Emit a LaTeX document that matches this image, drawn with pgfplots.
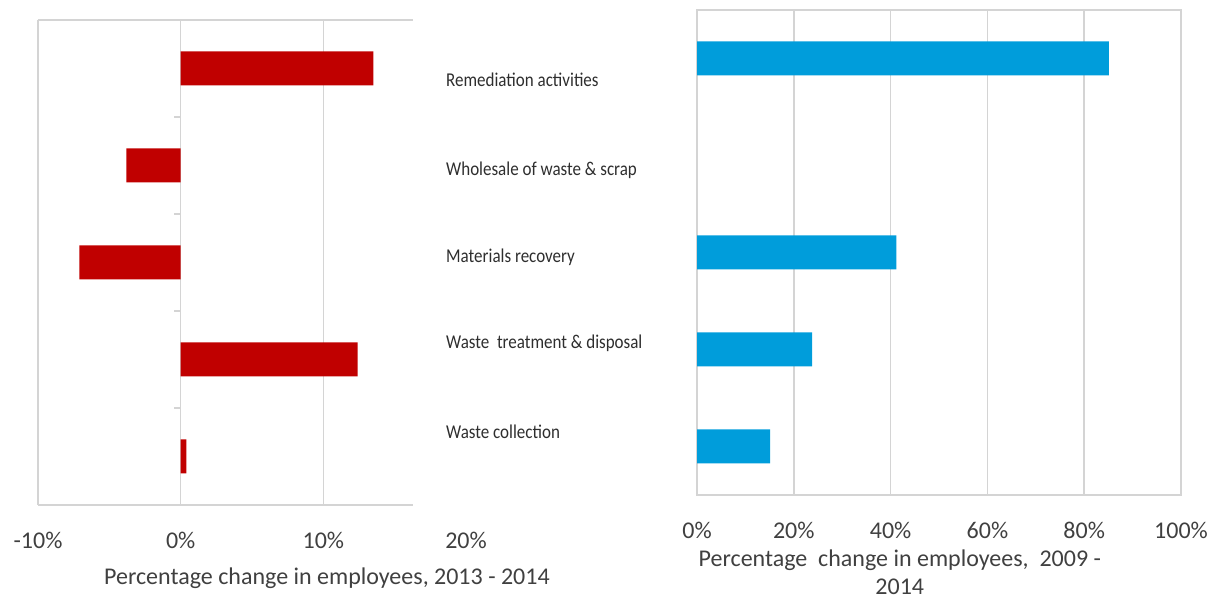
\documentclass[border=0pt]{standalone}
\usepackage{pgfplots}
\pgfplotsset{compat=1.18}
\usepackage{fontspec}
\setmainfont{Carlito}
\definecolor{barred}{HTML}{C00000}
\definecolor{barblue}{HTML}{009DDB}
\definecolor{gridgray}{HTML}{D4D4D4}
\definecolor{txtgray}{HTML}{404040}
\definecolor{labgray}{HTML}{2E2E2E}
\newcommand{\tickfont}{\fontsize{24}{28}\selectfont}
\newcommand{\catfont}{\fontsize{17}{20}\selectfont}
\begin{document}
\begin{tikzpicture}
\path[use as bounding box] (0,0) rectangle (1213pt,599pt);
% ---------- left chart: 2013 - 2014 ----------
\begin{axis}[
  at={(38pt,94pt)}, anchor=south west,
  scale only axis, width=428pt, height=485pt,
  xmin=-10, xmax=20, ymin=0.5, ymax=5.5,
  axis line style={draw=none},
  xtick={-10,0,10,20}, xticklabels={-10\%,0\%,10\%,20\%},
  ytick=\empty, major tick length=0pt, tick style={draw=none},
  extra x ticks={-10,0,10}, extra x tick labels={},
  extra x tick style={grid=major},
  grid style={draw=gridgray, line width=1.6pt},
  xticklabel style={font=\tickfont, text=txtgray, anchor=center, yshift=-35pt},
  xlabel={Percentage change in employees, 2013 - 2014},
  xlabel style={font=\tickfont, text=txtgray, inner sep=0pt, at={(rel axis cs:0.675,0)}, anchor=center, yshift=-73pt},
  xbar, bar width=34pt,
  clip=false,
]
\addplot[fill=barred, draw=none] coordinates {
  (0.4,1) (12.4,2) (-7.1,3) (-3.8,4) (13.5,5)
};
\draw[gridgray, line width=1.6pt] (axis cs:-10,0.5) -- (axis cs:16.26,0.5);
\draw[gridgray, line width=1.6pt] (axis cs:-10,5.5) -- (axis cs:16.26,5.5);
\draw[gridgray, line width=1.6pt] (axis cs:0,0.5) -- (axis cs:-0.49,0.5);
\draw[gridgray, line width=1.6pt] (axis cs:0,1.5) -- (axis cs:-0.49,1.5);
\draw[gridgray, line width=1.6pt] (axis cs:0,2.5) -- (axis cs:-0.49,2.5);
\draw[gridgray, line width=1.6pt] (axis cs:0,3.5) -- (axis cs:-0.49,3.5);
\draw[gridgray, line width=1.6pt] (axis cs:0,4.5) -- (axis cs:-0.49,4.5);
\draw[gridgray, line width=1.6pt] (axis cs:0,5.5) -- (axis cs:-0.49,5.5);
\end{axis}
% ---------- right chart: 2009 - 2014 ----------
\begin{axis}[
  at={(697pt,104pt)}, anchor=south west,
  scale only axis, width=484pt, height=485pt,
  xmin=0, xmax=100, ymin=0.5, ymax=5.5,
  axis line style={draw=gridgray, line width=1.6pt},
  xtick={0,20,40,60,80,100}, xticklabels={0\%,20\%,40\%,60\%,80\%,100\%},
  xmajorgrids, grid style={draw=gridgray, line width=1.6pt},
  ytick=\empty, major tick length=0pt, tick style={draw=none},
  xticklabel style={font=\tickfont, text=txtgray, anchor=center, yshift=-35pt},
  xlabel={Percentage\ \ change in employees,\ \ 2009 -\\2014},
  xlabel style={font=\tickfont, text=txtgray, align=center, inner sep=0pt, at={(rel axis cs:0.419,0)}, anchor=center, yshift=-77pt},
  xbar, bar width=34pt,
  clip=false,
]
\addplot[fill=barblue, draw=none] coordinates {
  (15.1,1) (23.8,2) (41.2,3) (85.1,5)
};
\end{axis}
% ---------- category names ----------
\node[anchor=west, font=\catfont, text=labgray, inner sep=0pt, yscale=1.15] at (446pt,519pt) {Remediation activities};
\node[anchor=west, font=\catfont, text=labgray, inner sep=0pt, yscale=1.15] at (446pt,429pt) {Wholesale of waste \& scrap};
\node[anchor=west, font=\catfont, text=labgray, inner sep=0pt, yscale=1.15] at (446pt,342pt) {Materials recovery};
\node[anchor=west, font=\catfont, text=labgray, inner sep=0pt, yscale=1.15] at (446pt,256pt) {Waste\ \ treatment \& disposal};
\node[anchor=west, font=\catfont, text=labgray, inner sep=0pt, yscale=1.15] at (446pt,167pt) {Waste collection};
\end{tikzpicture}
\end{document}
